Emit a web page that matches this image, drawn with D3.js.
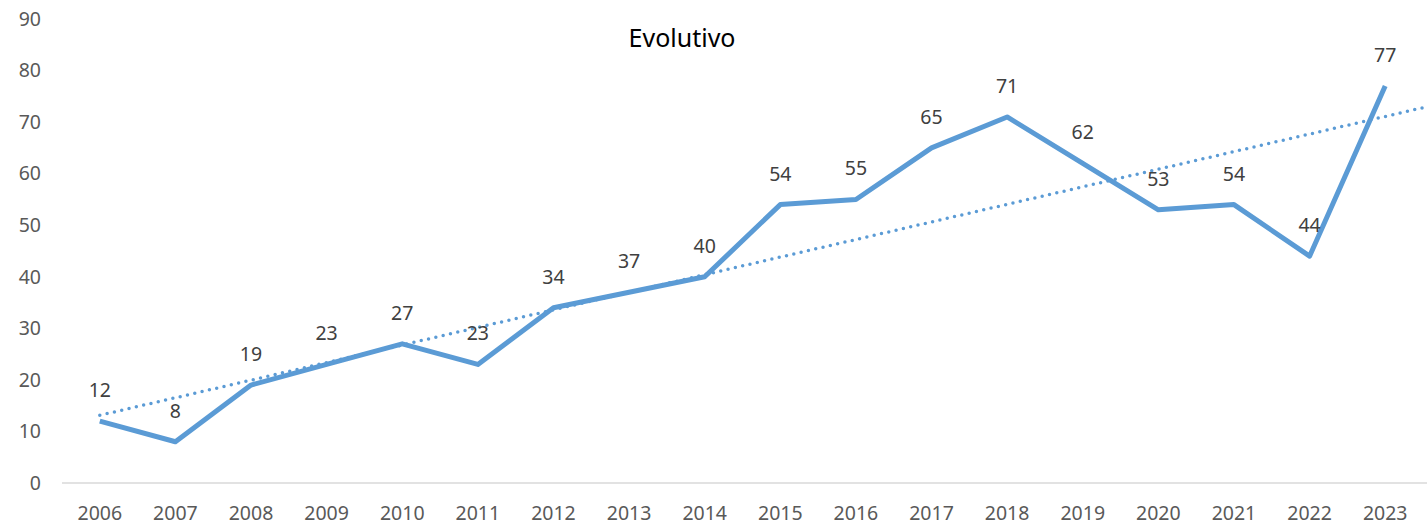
<!DOCTYPE html>
<html><head><meta charset="utf-8">
<script src="https://cdn.jsdelivr.net/npm/d3@7"></script>
<style>body{margin:0;background:#fff}svg{display:block}</style>
</head><body>
<svg id="chart" width="1427" height="526"></svg>
<script>
const years = ["2006","2007","2008","2009","2010","2011","2012","2013","2014","2015","2016","2017","2018","2019","2020","2021","2022","2023"];
const values = [12,8,19,23,27,23,34,37,40,54,55,65,71,62,53,54,44,77];
const yTicks = [0,10,20,30,40,50,60,70,80,90];
const title = "Evolutivo";

(function () {
const W = 1427, H = 526;
const svg = d3.select("#chart");
const mLeft = 62, mRight = 1423, mTop = 19, mBottom = 483;

const x = d3.scaleBand().domain(years).range([mLeft, mRight]).paddingInner(0).paddingOuter(0);
const xc = d => x(d) + x.bandwidth() / 2;
const y = d3.scaleLinear().domain([0, 90]).range([mBottom, mTop]);

const font = "'Noto Sans', 'Open Sans', sans-serif";
const fs = 19.5;

// y tick labels
svg.append("g").selectAll("text").data(yTicks).join("text")
  .attr("x", 41).attr("y", d => y(d)).attr("dy", "0.35em")
  .attr("text-anchor", "end").attr("font-family", font).attr("font-size", fs)
  .attr("fill", "#595959").text(d => d);

// x axis line
svg.append("line").attr("x1", mLeft).attr("x2", W).attr("y1", mBottom).attr("y2", mBottom)
  .attr("stroke", "#d9d9d9").attr("stroke-width", 1.5);

// x tick labels
svg.append("g").selectAll("text").data(years).join("text")
  .attr("x", d => xc(d)).attr("y", 520).attr("text-anchor", "middle")
  .attr("font-family", font).attr("font-size", fs).attr("fill", "#595959").text(d => d);

// linear trend (least squares on the data), extended one period forward
const n = values.length;
const mx = d3.mean(values, (d, i) => i), my = d3.mean(values);
const slope = d3.sum(values, (d, i) => (i - mx) * (d - my)) / d3.sum(values, (d, i) => (i - mx) ** 2);
const icpt = my - slope * mx;
const step = x.step();
const xi = i => xc(years[0]) + i * step;
svg.append("line")
  .attr("x1", xi(0)).attr("y1", y(icpt))
  .attr("x2", xi(n)).attr("y2", y(icpt + slope * n))
  .attr("stroke", "#5b9bd5").attr("stroke-width", 3.5)
  .attr("stroke-linecap", "round").attr("stroke-dasharray", "0,7.5");

// main line
svg.append("path").datum(values)
  .attr("d", d3.line().x((d, i) => xc(years[i])).y(d => y(d)))
  .attr("fill", "none").attr("stroke", "#5b9bd5").attr("stroke-width", 5)
  .attr("stroke-linejoin", "round");

// data labels
svg.append("g").selectAll("text").data(values).join("text")
  .attr("x", (d, i) => xc(years[i])).attr("y", d => y(d) - 24)
  .attr("text-anchor", "middle").attr("font-family", font).attr("font-size", fs)
  .attr("fill", "#404040").text(d => d);

// title
svg.append("text").attr("x", 682).attr("y", 47).attr("text-anchor", "middle")
  .attr("font-family", font).attr("font-size", 25).attr("fill", "#000").text(title);
})();
</script>
</body></html>
